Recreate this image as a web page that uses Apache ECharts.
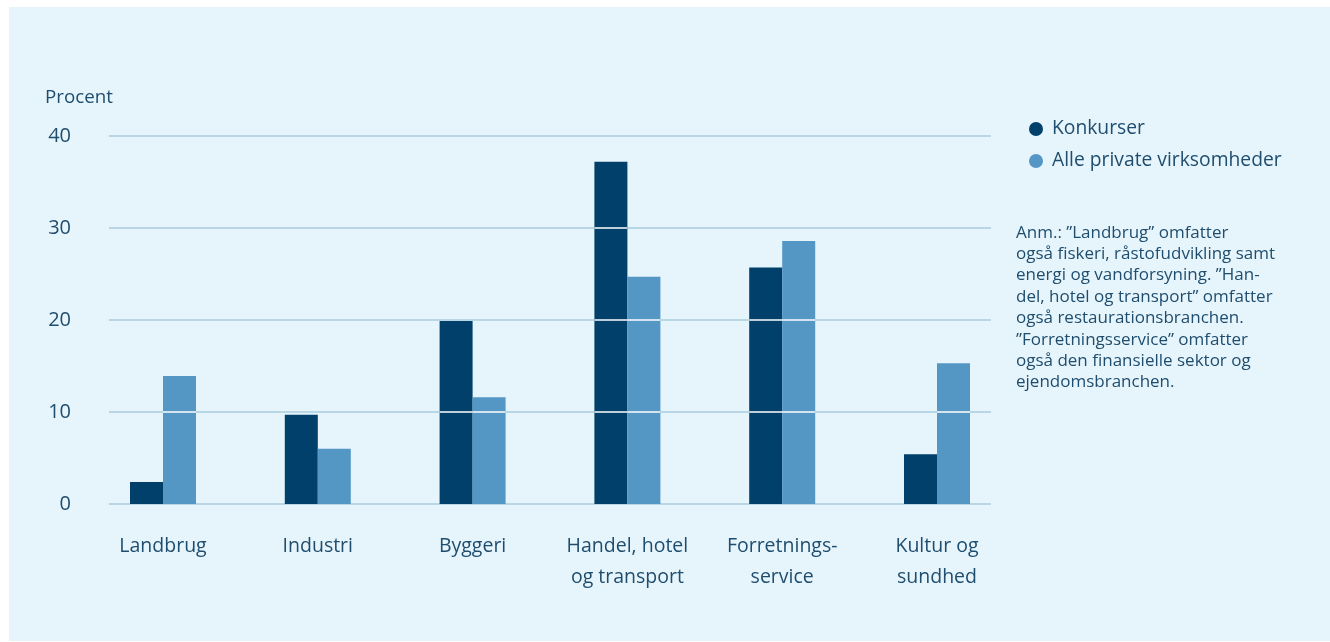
<!DOCTYPE html>
<html><head><meta charset="utf-8">
<script src="https://cdn.jsdelivr.net/npm/echarts@6/dist/echarts.min.js"></script>
<style>html,body{margin:0;padding:0;background:#fff}#c{width:1330px;height:642px}</style>
</head><body><div id="c"></div>
<script>
const categories = ['Landbrug', 'Industri', 'Byggeri', 'Handel, hotel\nog transport', 'Forretnings-\nservice', 'Kultur og\nsundhed'];
const konkurser = [2.4, 9.7, 19.9, 37.2, 25.7, 5.4];
const allePrivate = [13.9, 6.0, 11.6, 24.7, 28.6, 15.3];
const yTicks = [0, 10, 20, 30, 40];
const seriesNames = ['Konkurser', 'Alle private virksomheder'];
const noteText = 'Anm.: ”Landbrug” omfatter\nogså fiskeri, råstofudvikling samt\nenergi og vandforsyning. ”Han-\ndel, hotel og transport” omfatter\nogså restaurationsbranchen.\n”Forretningsservice” omfatter\nogså den finansielle sektor og\nejendomsbranchen.';

const FONT = '"Open Sans", "Noto Sans", sans-serif';
const TXT = '#1f4d6e';
const DARK = '#00406a';
const LIGHT = '#5497c5';
const GRIDC = '#a9cbdd';

const chart = echarts.init(document.getElementById('c'), null, {renderer: 'canvas'});

// white grid lines across bars
function whiteLines(offsetSign) {
  return function (params, api) {
    const idx = api.value(0);
    const v = api.value(1);
    const children = [];
    const bw = 33;
    for (const t of yTicks) {
      if (t > 0 && t < v) {
        const p = api.coord([idx, t]);
        const x0 = offsetSign < 0 ? p[0] - bw : p[0];
        children.push({type: 'line', shape: {x1: x0, y1: p[1], x2: x0 + bw, y2: p[1]},
          style: {stroke: '#ffffff', lineWidth: 1.5}});
      }
    }
    return {type: 'group', children};
  };
}

chart.setOption({
  backgroundColor: '#ffffff',
  animation: false,
  textStyle: {fontFamily: FONT, color: TXT},
  graphic: [
    {type: 'rect', z: -10, shape: {x: 9, y: 7, width: 1321, height: 634}, style: {fill: '#e6f5fc'}},
    {type: 'text', left: 45, top: 88, style: {text: 'Procent', font: '18.8px ' + FONT, fill: TXT}},
    {type: 'text', left: 1016, top: 222, style: {text: noteText, font: '17px ' + FONT, fill: TXT, lineHeight: 21.4}}
  ],
  legend: {
    orient: 'vertical', left: 1029, top: 119, padding: 0,
    icon: 'circle', itemWidth: 14, itemHeight: 14, itemGap: 12,
    textStyle: {fontFamily: FONT, fontSize: 19.3, color: TXT, lineHeight: 20, padding: [0, 0, 0, 4]},
    data: seriesNames
  },
  grid: [
    {left: 109, top: 136, width: 882, height: 368},
    {left: 85.6, top: 136, width: 928.8, height: 368}
  ],
  xAxis: [
    {gridIndex: 0, type: 'value', min: 0, max: 1, show: false},
    {gridIndex: 1, type: 'category', data: categories,
      axisLine: {show: false}, axisTick: {show: false},
      axisLabel: {fontFamily: FONT, fontSize: 19.5, color: TXT, margin: 27, lineHeight: 31, interval: 0}}
  ],
  yAxis: [
    {gridIndex: 0, type: 'value', min: 0, max: 40, interval: 10,
      axisLine: {show: false}, axisTick: {show: false},
      axisLabel: {fontFamily: FONT, fontSize: 20, color: TXT, margin: 38},
      splitLine: {lineStyle: {color: GRIDC, width: 1.5}}},
    {gridIndex: 1, type: 'value', min: 0, max: 40, interval: 10, show: false, splitLine: {show: false}}
  ],
  series: [
    {name: seriesNames[0], type: 'bar', xAxisIndex: 1, yAxisIndex: 1, data: konkurser,
      barWidth: 33, barGap: '0%', itemStyle: {color: DARK}},
    {name: seriesNames[1], type: 'bar', xAxisIndex: 1, yAxisIndex: 1, data: allePrivate,
      barWidth: 33, barGap: '0%', itemStyle: {color: LIGHT}},
    {type: 'custom', xAxisIndex: 1, yAxisIndex: 1, z: 5, silent: true,
      data: konkurser.map((v, i) => [i, v]), renderItem: whiteLines(-1)},
    {type: 'custom', xAxisIndex: 1, yAxisIndex: 1, z: 5, silent: true,
      data: allePrivate.map((v, i) => [i, v]), renderItem: whiteLines(1)}
  ]
});
</script></body></html>
